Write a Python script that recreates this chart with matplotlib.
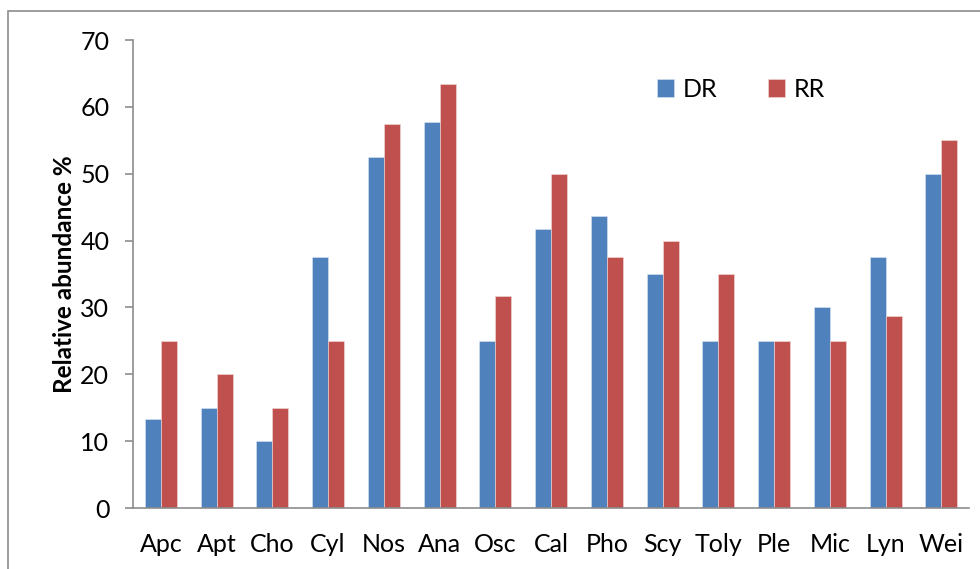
import matplotlib.pyplot as plt
import numpy as np
from matplotlib.patches import Rectangle

genera = ["Apc", "Apt", "Cho", "Cyl", "Nos", "Ana", "Osc", "Cal",
          "Pho", "Scy", "Toly", "Ple", "Mic", "Lyn", "Wei"]
dr_values = [13.3, 15, 10, 37.5, 52.5, 57.7, 25, 41.7,
             43.7, 35, 25, 25, 30, 37.5, 50]
rr_values = [25, 20, 15, 25, 57.5, 63.4, 31.7, 50,
             37.5, 40, 35, 25, 25, 28.7, 55]

plt.rcParams["font.family"] = ["Lato", "DejaVu Sans"]

fig = plt.figure(figsize=(9.8, 5.69), dpi=100)
ax = fig.add_axes([0.1357, 0.1072, 0.8533, 0.8225])

# outer chart frame, like the Excel chart area border
fig.patches.append(Rectangle((7.5 / 980, -0.1), 1.1, (569 - 11) / 569 + 0.1,
                             transform=fig.transFigure, fill=False,
                             edgecolor="#8c8c8c", linewidth=1.2))

x = np.arange(len(genera))
width = 0.287
ax.bar(x - width / 2, dr_values, width, color="#4F81BD", label="DR",
       edgecolor="#dce6f2", linewidth=0.4)
ax.bar(x + width / 2, rr_values, width, color="#C0504D", label="RR",
       edgecolor="#f2dcdb", linewidth=0.4)

ax.set_xlim(-0.5, len(genera) - 0.5)
ax.set_ylim(0, 70)
ax.set_yticks(range(0, 71, 10))
ax.set_xticks(x)
ax.set_xticklabels(genera)

for side in ["top", "right"]:
    ax.spines[side].set_visible(False)
for side in ["left", "bottom"]:
    ax.spines[side].set_color("#8c8c8c")
    ax.spines[side].set_linewidth(1.2)

ax.tick_params(axis="y", length=6, width=1.2, color="#8c8c8c",
               labelsize=18, pad=11)
ax.tick_params(axis="x", length=0, labelsize=18, pad=18)

ax.set_ylabel("Relative abundance %", fontsize=17.5, fontweight="bold",
              labelpad=3)

ax.legend(loc="center", bbox_to_anchor=(0.727, 0.895), ncol=2, frameon=False,
          fontsize=18, handlelength=0.7, handleheight=0.7,
          columnspacing=2.0, handletextpad=0.35)

plt.savefig("out.png", dpi=100)
